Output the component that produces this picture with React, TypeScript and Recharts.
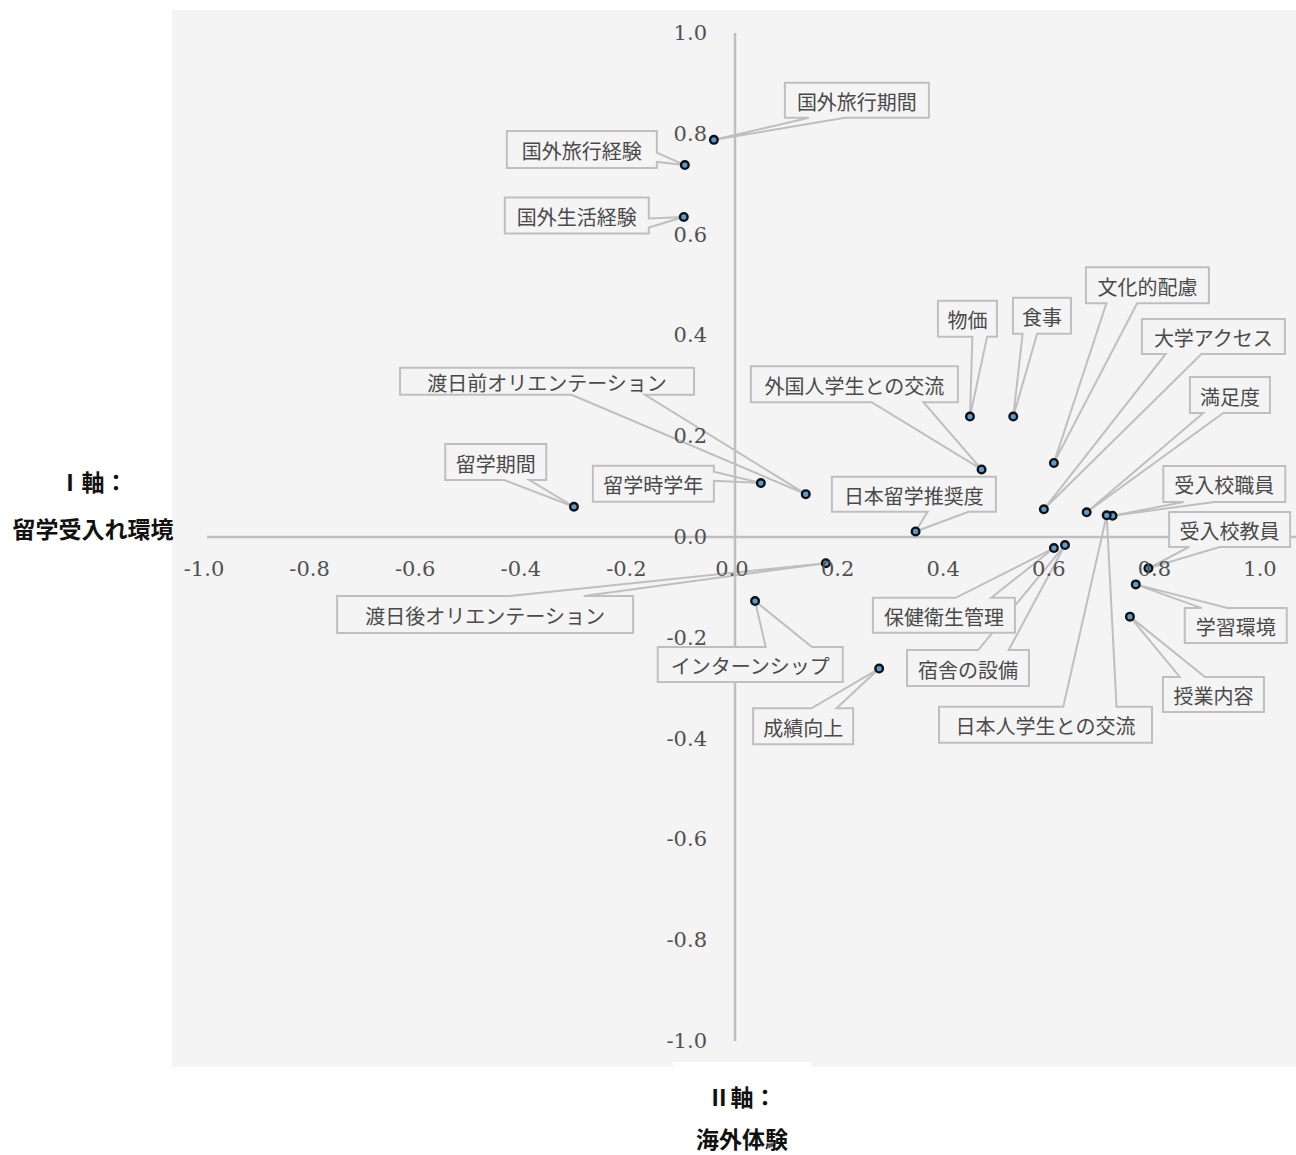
import React from "react";
import { ScatterChart, Scatter, XAxis, YAxis, ReferenceLine } from "recharts";

// 項目名と座標（Ⅱ軸 = x, Ⅰ軸 = y）
const NAMES = [
    "国外旅行期間", "国外旅行経験", "国外生活経験", "物価", "食事", "文化的配慮",
    "大学アクセス", "満足度", "受入校職員", "受入校教員", "学習環境", "授業内容",
    "日本人学生との交流", "宿舎の設備", "保健衛生管理", "成績向上", "インターンシップ",
    "日本留学推奨度", "外国人学生との交流", "渡日前オリエンテーション", "留学時学年",
    "留学期間", "渡日後オリエンテーション",
];
const X_VALUES = [
    -0.04, -0.095, -0.097, 0.445, 0.527, 0.604,
    0.585, 0.666, 0.715, 0.783, 0.759, 0.748,
    0.704, 0.625, 0.604, 0.273, 0.038,
    0.342, 0.467, 0.134, 0.049,
    -0.305, 0.172,
];
const Y_VALUES = [
    0.788, 0.738, 0.635, 0.239, 0.239, 0.147,
    0.055, 0.049, 0.042, -0.062, -0.094, -0.158,
    0.043, -0.016, -0.022, -0.261, -0.127,
    0.011, 0.134, 0.085, 0.107,
    0.06, -0.052,
];
const X_TICKS = [-1, -0.8, -0.6, -0.4, -0.2, 0, 0.2, 0.4, 0.6, 0.8, 1];
const Y_TICKS = [-1, -0.8, -0.6, -0.4, -0.2, 0, 0.2, 0.4, 0.6, 0.8, 1];

// callout box layout: center offset from point (px), width, height, optional wedge side
const LABEL_BOXES: [number, number, number, number, string?][] = [
    [143, -39.5, 144, 35],
    [-103, -15.5, 150, 37],
    [-107, -1.5, 144, 36],
    [-2.5, -97.7, 59, 36],
    [28.7, -100.7, 58, 36],
    [93.5, -177.7, 123, 36],
    [169.5, -172.8, 143, 35],
    [143.3, -117.3, 80, 36],
    [111.8, -31.9, 122, 36, "bottom"],
    [81.2, -38.8, 121, 35],
    [100, 41.2, 102, 35],
    [83.5, 77.8, 101, 35],
    [-61.2, 209.5, 213, 36],
    [-97, 123, 122, 36],
    [-110, 67.2, 142, 35],
    [-76, 57.7, 100, 36],
    [-4.8, 63.5, 185, 35],
    [-1.7, -37.2, 164, 35],
    [-127.2, -85.3, 207, 36],
    [-258.7, -112.8, 294, 27],
    [-107.5, 0.7, 121, 36],
    [-78.2, -44.7, 101, 36],
    [-340.7, 51.2, 296, 37],
];

const data = NAMES.map((name, i) => ({ name, x: X_VALUES[i], y: Y_VALUES[i], i }));

const W = 1296;
const H = 1155;
// axes take 1px each (a 0px axis draws no ticks)
const MARGIN = { top: 33, right: 0, bottom: 113, left: 206 };
const AXIS_SIZE = 1;
const X_DOMAIN = [-1, 1.0625];
const Y_DOMAIN = [-1, 1];
const PLOT_LEFT = MARGIN.left + AXIS_SIZE;
const PLOT_W = W - PLOT_LEFT - MARGIN.right;
const PLOT_H = H - MARGIN.top - MARGIN.bottom - AXIS_SIZE;
const ZERO_X = PLOT_LEFT + ((0 - X_DOMAIN[0]) / (X_DOMAIN[1] - X_DOMAIN[0])) * PLOT_W;
const ZERO_Y = MARGIN.top + ((Y_DOMAIN[1] - 0) / (Y_DOMAIN[1] - Y_DOMAIN[0])) * PLOT_H;

const BG = "#f4f4f4";
const LINE = "#bfbfbf";
const TICK_FONT = "'DejaVu Serif', serif";
const JP_FONT = "'Noto Sans CJK JP', 'Noto Sans', sans-serif";

function calloutPath(bx: number, by: number, w: number, h: number, tx: number, ty: number, forced?: string) {
    const dx = tx - (bx + w / 2);
    const dy = ty - (by + h / 2);
    const dq = (dx * h) / w;
    let side = forced;
    if (!side) side = Math.abs(dy) > Math.abs(dq) ? (dy > 0 ? "bottom" : "top") : (dx > 0 ? "right" : "left");
    const x1 = bx + (w * (dx > 0 ? 7 : 2)) / 12;
    const x2 = bx + (w * (dx > 0 ? 10 : 5)) / 12;
    const y1 = by + (h * (dy > 0 ? 7 : 2)) / 12;
    const y2 = by + (h * (dy > 0 ? 10 : 5)) / 12;
    const r = bx + w;
    const b = by + h;
    let d = `M${bx},${by}`;
    if (side === "top") d += ` L${x1},${by} L${tx},${ty} L${x2},${by}`;
    d += ` L${r},${by}`;
    if (side === "right") d += ` L${r},${y1} L${tx},${ty} L${r},${y2}`;
    d += ` L${r},${b}`;
    if (side === "bottom") d += ` L${x2},${b} L${tx},${ty} L${x1},${b}`;
    d += ` L${bx},${b}`;
    if (side === "left") d += ` L${bx},${y2} L${tx},${ty} L${bx},${y1}`;
    d += " Z";
    return d;
}

function Callout(props: any) {
    const { cx, cy, payload } = props;
    if (cx == null || cy == null) return null;
    const [dx, dy, w, h, side] = LABEL_BOXES[payload.i];
    const bx = cx + dx - w / 2;
    const by = cy + dy - h / 2;
    return (
        <g>
            <rect x={bx} y={by} width={w} height={h} fill={BG} />
            <path d={calloutPath(bx, by, w, h, cx, cy, side)} fill="none" stroke={LINE} strokeWidth={2} strokeLinejoin="miter" />
            <text x={bx + w / 2} y={by + h / 2 + 1} textAnchor="middle" dominantBaseline="central"
                fontFamily={JP_FONT} fontSize={20} fill="#4a4a4a">
                {payload.name}
            </text>
        </g>
    );
}

function Dot(props: any) {
    const { cx, cy } = props;
    if (cx == null || cy == null) return null;
    return <circle cx={cx} cy={cy} r={3.8} fill="#5b9bd5" stroke="#111" strokeWidth={2.4} />;
}

function XTick(props: any) {
    const { x, payload } = props;
    return (
        <text x={x - 3} y={ZERO_Y + 32} textAnchor="middle" dominantBaseline="central"
            fontFamily={TICK_FONT} fontSize={21} fill="#505050">
            {Number(payload.value).toFixed(1)}
        </text>
    );
}

function YTick(props: any) {
    const { y, payload } = props;
    return (
        <text x={ZERO_X - 28} y={y} textAnchor="end" dominantBaseline="central"
            fontFamily={TICK_FONT} fontSize={21} fill="#505050">
            {Number(payload.value).toFixed(1)}
        </text>
    );
}

const titleStyle: React.CSSProperties = {
    position: "absolute",
    fontFamily: JP_FONT,
    fontWeight: 700,
    fontSize: 23,
    color: "#111",
    textAlign: "center",
    lineHeight: "26px",
    whiteSpace: "nowrap",
};

export default function App() {
    return (
        <div style={{ position: "absolute", left: 0, top: 0, width: W, height: H, background: "#fff", overflow: "hidden" }}>
            <div style={{ position: "absolute", left: 172, top: 10, width: W - 172, height: 1057, background: BG }} />
            <div style={{ position: "absolute", left: 0, top: 0 }}>
                <ScatterChart width={W} height={H} margin={MARGIN}>
                    <XAxis type="number" dataKey="x" domain={X_DOMAIN} ticks={X_TICKS} interval={0}
                        allowDataOverflow height={AXIS_SIZE} axisLine={false} tickLine={false} tick={<XTick />} />
                    <YAxis type="number" dataKey="y" domain={Y_DOMAIN} ticks={Y_TICKS} interval={0}
                        allowDataOverflow width={AXIS_SIZE} axisLine={false} tickLine={false} tick={<YTick />} />
                    <ReferenceLine y={0} stroke={LINE} strokeWidth={2.5} />
                    <ReferenceLine x={0} stroke={LINE} strokeWidth={2.5} />
                    <Scatter data={data} shape={(p: any) => <Callout {...p} />} isAnimationActive={false} />
                    <Scatter data={data} shape={(p: any) => <Dot {...p} />} isAnimationActive={false} />
                </ScatterChart>
            </div>
            <div style={{ ...titleStyle, left: 0, width: 186, top: 468 }}>Ⅰ軸：</div>
            <div style={{ ...titleStyle, left: 0, width: 186, top: 515 }}>留学受入れ環境</div>
            <div style={{ position: "absolute", left: 673, top: 1062, width: 138, height: 93, background: "#fff" }} />
            <div style={{ ...titleStyle, left: 642, width: 200, top: 1083 }}>Ⅱ軸：</div>
            <div style={{ ...titleStyle, left: 642, width: 200, top: 1125 }}>海外体験</div>
        </div>
    );
}
